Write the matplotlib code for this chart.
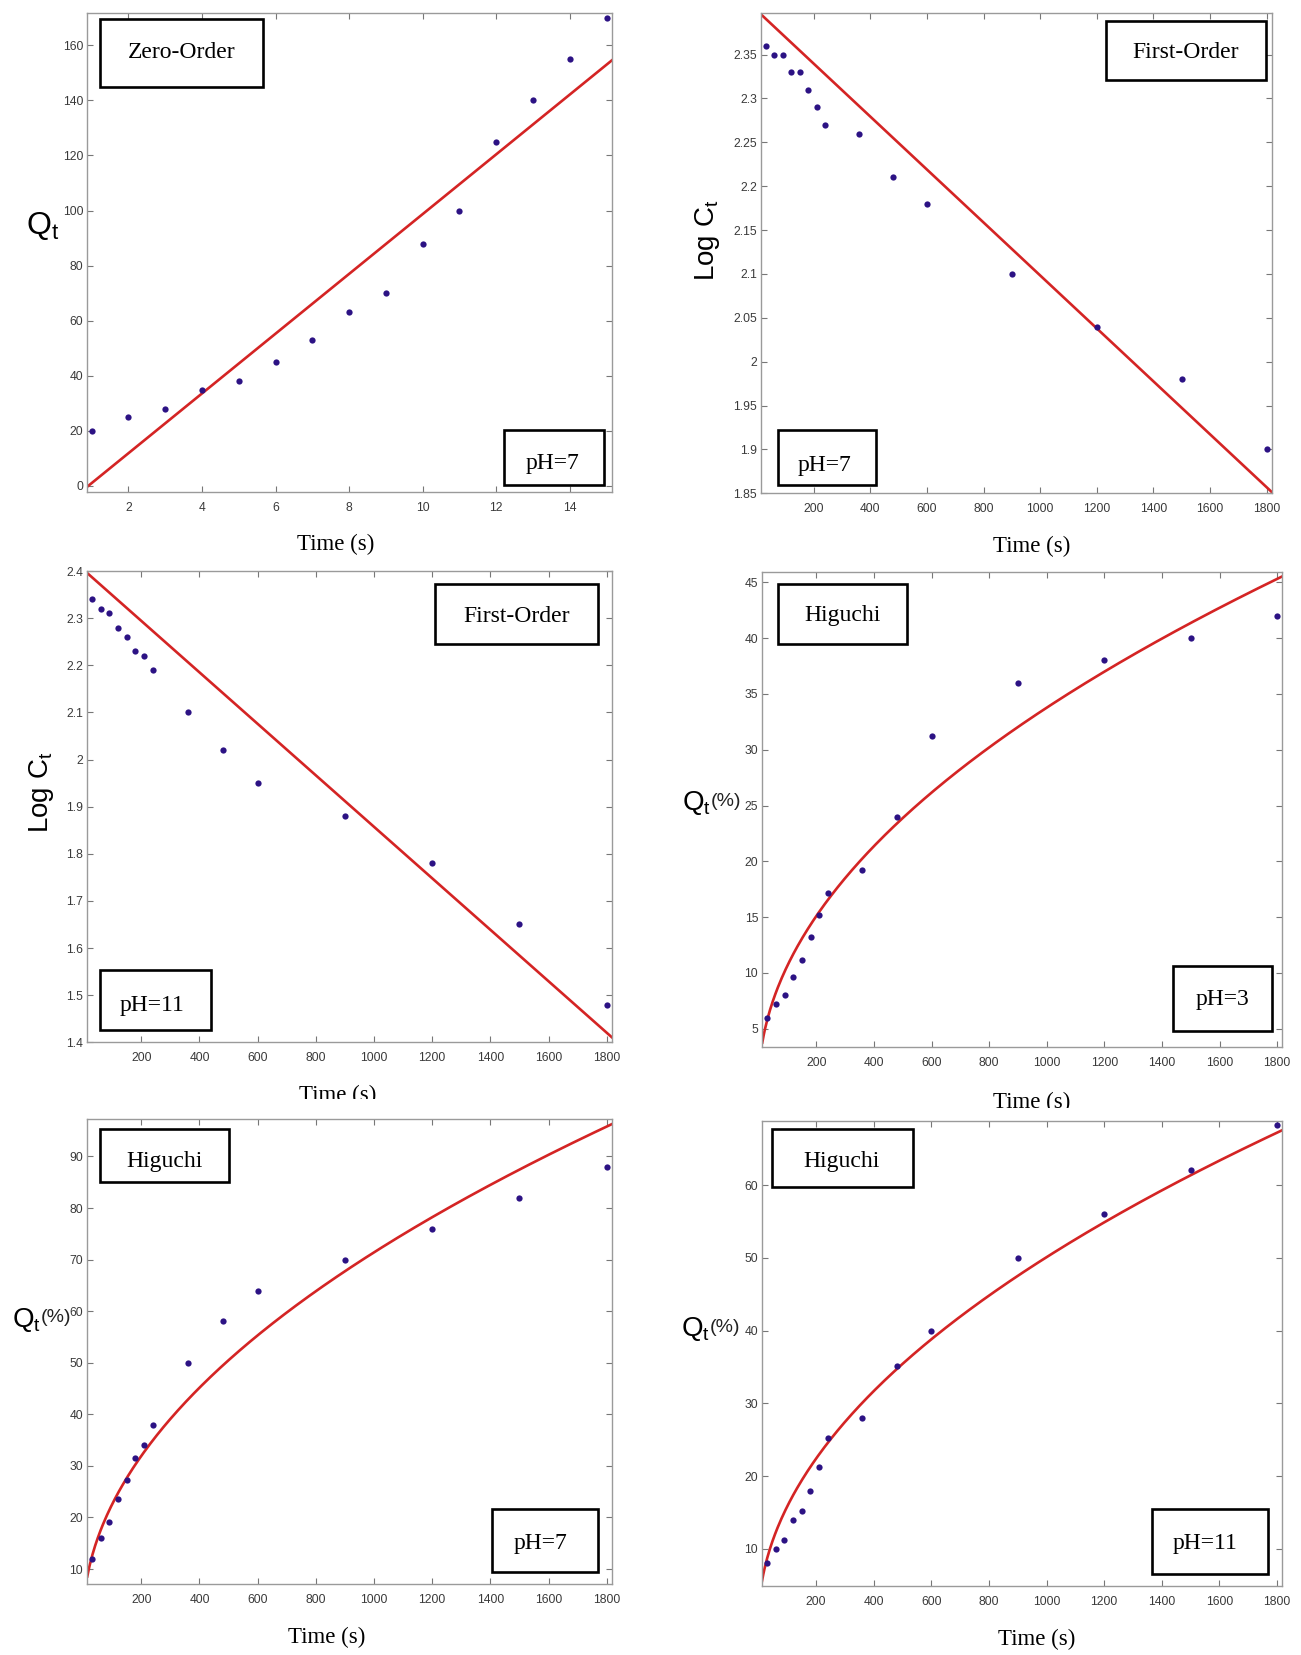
import numpy as np
import matplotlib
matplotlib.use("Agg")
import matplotlib.pyplot as plt
from matplotlib.patches import Rectangle
from matplotlib.ticker import FuncFormatter

# ---------------- data ----------------
zero_x = [1, 2, 3, 4, 5, 6, 7, 8, 9, 10, 11, 12, 13, 14, 15]
zero_q_ph7 = [20, 25, 28, 35, 38, 45, 53, 63, 70, 88, 100, 125, 140, 155, 170]

time_s = [30, 60, 90, 120, 150, 180, 210, 240, 360, 480, 600, 900, 1200, 1500, 1800]
logc_ph7 = [2.36, 2.35, 2.35, 2.33, 2.33, 2.31, 2.29, 2.27, 2.26, 2.21, 2.18, 2.10, 2.04, 1.98, 1.90]
logc_ph11 = [2.34, 2.32, 2.31, 2.28, 2.26, 2.23, 2.22, 2.19, 2.10, 2.02, 1.95, 1.88, 1.78, 1.65, 1.48]
higuchi_ph3 = [6.0, 7.2, 8.0, 9.6, 11.2, 13.2, 15.2, 17.2, 19.2, 24.0, 31.2, 36.0, 38.0, 40.0, 42.0]
higuchi_ph7 = [12.0, 16.0, 19.2, 23.5, 27.2, 31.6, 34.1, 38.0, 50.0, 58.0, 64.0, 70.0, 76.0, 82.0, 88.0]
higuchi_ph11 = [8.0, 10.0, 11.2, 14.0, 15.2, 18.0, 21.2, 25.2, 28.0, 35.2, 40.0, 50.0, 56.0, 62.1, 68.2]

# fitted model parameters
zero_fit = (10.85, -9.8)            # slope, intercept
first_fit_ph7 = (-3.017e-4, 2.400)  # slope, intercept
first_fit_ph11 = (-5.462e-4, 2.4034)
hig_k_ph3 = 1.068
hig_k_ph7 = 2.258
hig_k_ph11 = 1.584

# ---------------- style ----------------
W, H = 1301, 1655
fig = plt.figure(figsize=(W / 100, H / 100), dpi=100)
fig.patch.set_facecolor("white")
plt.rcParams["mathtext.fontset"] = "custom"
plt.rcParams["mathtext.rm"] = "Liberation Sans"
plt.rcParams["mathtext.it"] = "Liberation Sans"

DOT = "#2c1284"
RED = "#d42424"
SPINE = "#9a9a9a"
TICKC = "#3a3a3a"
SERIF = "Liberation Serif"
SANS = "Liberation Sans"


def add_ax(L, R, T, B):
    return fig.add_axes([L / W, 1 - B / H, (R - L) / W, (B - T) / H])


def style(ax, xlim, ylim, xticks, yticks):
    ax.set_xlim(*xlim)
    ax.set_ylim(*ylim)
    ax.set_xticks(xticks)
    ax.set_yticks(yticks)
    fmt = FuncFormatter(lambda v, p: "%g" % round(v, 4))
    ax.xaxis.set_major_formatter(fmt)
    ax.yaxis.set_major_formatter(fmt)
    for s in ax.spines.values():
        s.set_color(SPINE)
        s.set_linewidth(1.0)
    ax.tick_params(direction="in", top=True, right=True, length=4, width=0.8,
                   color="#777777", labelsize=8.7, labelcolor=TICKC)
    ax.tick_params(axis="x", pad=7)
    ax.tick_params(axis="y", pad=3)
    for lab in ax.get_xticklabels() + ax.get_yticklabels():
        lab.set_fontfamily(SANS)


def box(x0, x1, y0, y1, text, tx, ty):
    r = Rectangle((x0 / W, 1 - y1 / H), (x1 - x0) / W, (y1 - y0) / H,
                  transform=fig.transFigure, facecolor="white",
                  edgecolor="black", linewidth=1.9, zorder=5)
    fig.add_artist(r)
    fig.text(tx / W, 1 - ty / H, text, ha="center", va="center",
             fontsize=17, family=SERIF, color="black", zorder=6)


def xlabel(x, y):
    fig.text(x / W, 1 - y / H, "Time (s)", ha="center", va="center",
             fontsize=16.5, family=SERIF, color="black")


def qt_label(x, y, size=23):
    fig.text(x / W, 1 - y / H, r"$\mathrm{Q_t}$", ha="center", va="center",
             fontsize=size, color="black")


def qtp_label(xb, y):
    fig.text(xb / W, 1 - y / H, r"$\mathrm{Q_t}$", ha="right", va="center",
             fontsize=20, color="black")
    fig.text(xb / W, 1 - (y - 2) / H, "(%)", ha="left", va="center",
             fontsize=14, family=SANS, color="#222222")


def logc_label(x, y):
    fig.text(x / W, 1 - y / H, r"$\mathrm{Log\ C_t}$", ha="center", va="center",
             rotation=90, fontsize=20, color="black")


def scatter(ax, x, y):
    ax.plot(x, y, linestyle="none", marker="o", ms=4.5, color=DOT,
            markeredgewidth=0, zorder=3)


# ---------------- Panel 1: Zero-order pH 7 ----------------
ax1 = add_ax(87.3, 611.7, 13.3, 492.3)
xl = (0.88, 15.14)
xx = np.linspace(xl[0], xl[1], 50)
ax1.plot(xx, zero_fit[0] * xx + zero_fit[1], color=RED, lw=1.9, zorder=2)
scatter(ax1, zero_x, zero_q_ph7)
style(ax1, xl, (-2.3, 171.6), range(2, 15, 2), range(0, 161, 20))
qt_label(43, 226)
xlabel(336, 544)
box(100, 263, 19, 86.5, "Zero-Order", 181.5, 52)
box(504, 604, 430, 485, "pH=7", 553, 464)

# ---------------- Panel 2: First-order pH 7 ----------------
ax2 = add_ax(761.3, 1271.7, 13.3, 493.3)
xl = (15, 1818)
tt = np.linspace(xl[0], xl[1], 50)
ax2.plot(tt, first_fit_ph7[0] * tt + first_fit_ph7[1], color=RED, lw=1.9, zorder=2)
scatter(ax2, time_s, logc_ph7)
style(ax2, xl, (1.85, 2.397), range(200, 1801, 200), np.arange(1.85, 2.351, 0.05))
logc_label(707, 240)
xlabel(1032, 546)
box(1106, 1266, 21, 80, "First-Order", 1186, 52)
box(778, 876, 430, 485, "pH=7", 825, 465)

# ---------------- Panel 3: First-order pH 11 ----------------
ax3 = add_ax(87.3, 611.7, 571, 1042.3)
xl = (14.4, 1817)
tt = np.linspace(xl[0], xl[1], 50)
ax3.plot(tt, first_fit_ph11[0] * tt + first_fit_ph11[1], color=RED, lw=1.9, zorder=2)
scatter(ax3, time_s, logc_ph11)
style(ax3, xl, (1.4, 2.4), range(200, 1801, 200), np.arange(1.4, 2.401, 0.1))
logc_label(42, 792)
xlabel(338, 1095)
box(435, 598, 583.5, 644, "First-Order", 517, 616)
box(100, 211, 970, 1030, "pH=11", 152, 1005)

# ---------------- Panel 4: Higuchi pH 3 ----------------
ax4 = add_ax(762.3, 1282, 572, 1047.3)
xl = (12.4, 1817)
tt = np.linspace(xl[0], xl[1], 400)
ax4.plot(tt, hig_k_ph3 * np.sqrt(tt), color=RED, lw=1.9, zorder=2)
scatter(ax4, time_s, higuchi_ph3)
style(ax4, xl, (3.34, 45.93), range(200, 1801, 200), range(5, 46, 5))
qtp_label(711, 803)
xlabel(1032, 1102)
box(778, 907, 583.5, 644, "Higuchi", 843, 616)
box(1173, 1271.5, 965.5, 1031, "pH=3", 1222, 999)

# ---------------- Panel 5: Higuchi pH 7 ----------------
ax5 = add_ax(87.3, 611.7, 1119.3, 1584)
xl = (14.4, 1817)
tt = np.linspace(xl[0], xl[1], 400)
ax5.plot(tt, hig_k_ph7 * np.sqrt(tt), color=RED, lw=1.9, zorder=2)
scatter(ax5, time_s, higuchi_ph7)
style(ax5, xl, (7.1, 97.2), range(200, 1801, 200), range(10, 91, 10))
qtp_label(41, 1320)
xlabel(327, 1637)
box(100, 229, 1129, 1182, "Higuchi", 164.6, 1162)
box(492, 598, 1509, 1572, "pH=7", 540, 1543)

# ---------------- Panel 6: Higuchi pH 11 ----------------
ax6 = add_ax(762, 1282, 1121, 1586)
xl = (12.4, 1817)
tt = np.linspace(xl[0], xl[1], 400)
ax6.plot(tt, hig_k_ph11 * np.sqrt(tt), color=RED, lw=1.9, zorder=2)
scatter(ax6, time_s, higuchi_ph11)
style(ax6, xl, (4.9, 68.8), range(200, 1801, 200), range(10, 61, 10))
qtp_label(710, 1329)
xlabel(1037, 1639)
box(772, 913, 1129, 1187, "Higuchi", 842, 1162)
box(1152, 1268, 1509, 1574, "pH=11", 1205, 1543)

# white strips that clip the middle row's x-labels as in the original layout
fig.add_artist(Rectangle((0, 1 - 1116 / H), 0.5, 17 / H, transform=fig.transFigure,
                         facecolor="white", edgecolor="none", zorder=10))
fig.add_artist(Rectangle((0.5, 1 - 1118 / H), 0.5, 10 / H, transform=fig.transFigure,
                         facecolor="white", edgecolor="none", zorder=10))

fig.savefig("out.png", dpi=100, facecolor="white")
